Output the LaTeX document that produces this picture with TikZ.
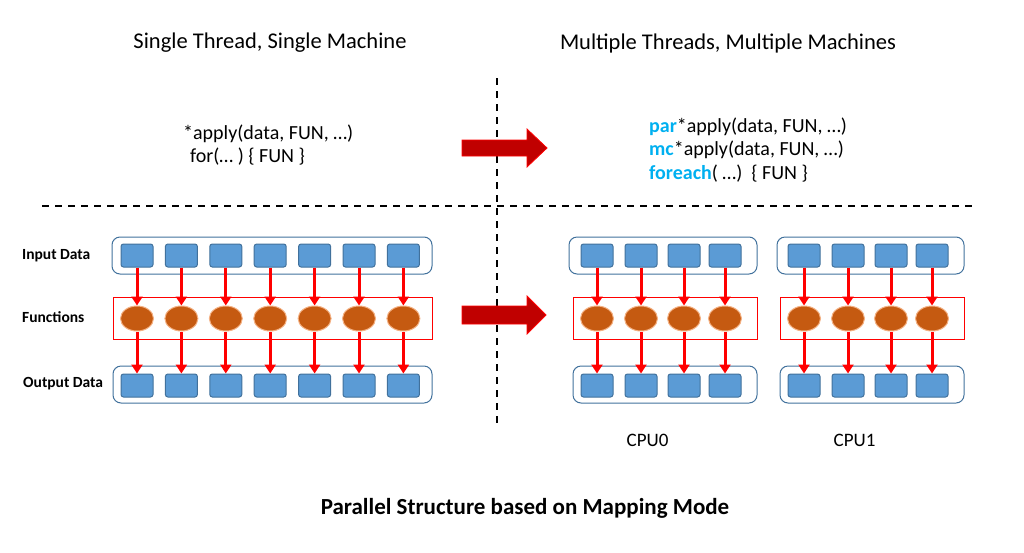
\documentclass[tikz,border=0pt]{standalone}
\usepackage{fontspec}
\setmainfont{Carlito}
\usetikzlibrary{arrows.meta,shapes.geometric}
\definecolor{sqfill}{HTML}{5B9BD5}
\definecolor{sqedge}{HTML}{41719C}
\definecolor{boxedge}{HTML}{41719C}
\definecolor{elfill}{HTML}{C55A11}
\definecolor{eledge}{HTML}{F4B183}
\definecolor{bigarrow}{HTML}{C00000}
\definecolor{kw}{HTML}{00B0F0}
\tikzset{
  sq/.style={draw=sqedge, line width=1pt, fill=sqfill, rounded corners=2.5pt, minimum width=32pt, minimum height=23pt, inner sep=0pt},
  el/.style={draw=eledge, line width=1pt, fill=elfill, ellipse, minimum width=33pt, minimum height=25pt, inner sep=0pt},
  container/.style={draw=boxedge, line width=1pt, rounded corners=8pt},
  fbox/.style={draw=red, line width=1pt},
  flow/.style={draw=red, line width=3pt, -{Triangle[length=9pt,width=11pt]}},
  divider/.style={line width=1.3pt, dash pattern=on 7pt off 6pt},
  lab/.style={font=\fontsize{15.5}{18}\selectfont\bfseries, anchor=west, inner sep=0pt},
  code/.style={font=\fontsize{20}{24}\selectfont, anchor=west, inner sep=0pt},
  fat/.style={fill=bigarrow, draw=red, line width=0.8pt},
}
\begin{document}
\begin{tikzpicture}[x=1pt,y=-1pt]
\useasboundingbox (0,0) rectangle (1024,552);
% titles
\node[font=\fontsize{22.5}{27}\selectfont] (t1) at (270,43) {Single Thread, Single Machine};
\node[font=\fontsize{22.5}{27}\selectfont] (t2) at (728,43) {Multiple Threads, Multiple Machines};
% dividers
\coordinate (v1) at (497,78); \coordinate (v2) at (497,425);
\draw[divider] (v1) -- (v2);
\coordinate (h1) at (42,206); \coordinate (h2) at (975,206);
\draw[divider] (h1) -- (h2);
% left code
\node[code] (c1) at (183,134) {*apply(data, FUN, …)};
\node[code] (c2) at (190,157) {for(… ) \{ FUN \}};
% right code
\node[code] (c3) at (649,127) {\textcolor{kw}{\bfseries par}*apply(data, FUN, …)};
\node[code] (c4) at (649,150) {\textcolor{kw}{\bfseries mc}*apply(data, FUN, …)};
\node[code] (c5) at (649,174) {\textcolor{kw}{\bfseries foreach}( …)\ \ \{ FUN \}};
% big arrows
\draw[fat] (462,140) -- (527,140) -- (527,129) -- (547,148) -- (527,167) -- (527,156) -- (462,156) -- cycle;
\draw[fat] (462,306) -- (527,306) -- (527,296) -- (546,315) -- (527,334) -- (527,324) -- (462,324) -- cycle;
% row labels
\node[lab] (li) at (22,256) {Input Data};
\node[lab] (lf) at (22,317) {Functions};
\node[lab] (lo) at (23,384) {Output Data};
% left panel
\draw[container] (112,237) rectangle (432,274);
\draw[fbox] (113,297) rectangle (432,339);
\draw[container] (113,366) rectangle (432,403);
\foreach \i in {0,...,6} {
  \pgfmathsetmacro{\xx}{137+44.4*\i}
  \node[sq] (in\i) at (\xx,255.5) {};
  \node[el] (fn\i) at (\xx,318.5) {};
  \node[sq] (out\i) at (\xx,385.5) {};
  \draw[flow] (in\i.south) -- (fn\i.north);
  \draw[flow] (fn\i.south) -- (out\i.north);
}
% CPU0
\draw[container] (569,237) rectangle (757,274);
\draw[fbox] (573,297) rectangle (757,339);
\draw[container] (573,366) rectangle (757,403);
\foreach \xx [count=\i] in {597,641,684,725} {
  \node[sq] (ain\i) at (\xx,255.5) {};
  \node[el] (afn\i) at (\xx,318.5) {};
  \node[sq] (aout\i) at (\xx,385.5) {};
  \draw[flow] (ain\i.south) -- (afn\i.north);
  \draw[flow] (afn\i.south) -- (aout\i.north);
}
% CPU1
\draw[container] (777,237) rectangle (964,274);
\draw[fbox] (780,297) rectangle (964,339);
\draw[container] (780,366) rectangle (964,403);
\foreach \xx [count=\i] in {804,848,891,932} {
  \node[sq] (bin\i) at (\xx,255.5) {};
  \node[el] (bfn\i) at (\xx,318.5) {};
  \node[sq] (bout\i) at (\xx,385.5) {};
  \draw[flow] (bin\i.south) -- (bfn\i.north);
  \draw[flow] (bfn\i.south) -- (bout\i.north);
}
\node[font=\fontsize{19}{23}\selectfont] (cpu0) at (647.5,440) {CPU0};
\node[font=\fontsize{19}{23}\selectfont] (cpu1) at (854.5,440) {CPU1};
% caption
\node[font=\fontsize{23}{27}\selectfont\bfseries] (cap) at (525,508) {Parallel Structure based on Mapping Mode};
\end{tikzpicture}
\end{document}
